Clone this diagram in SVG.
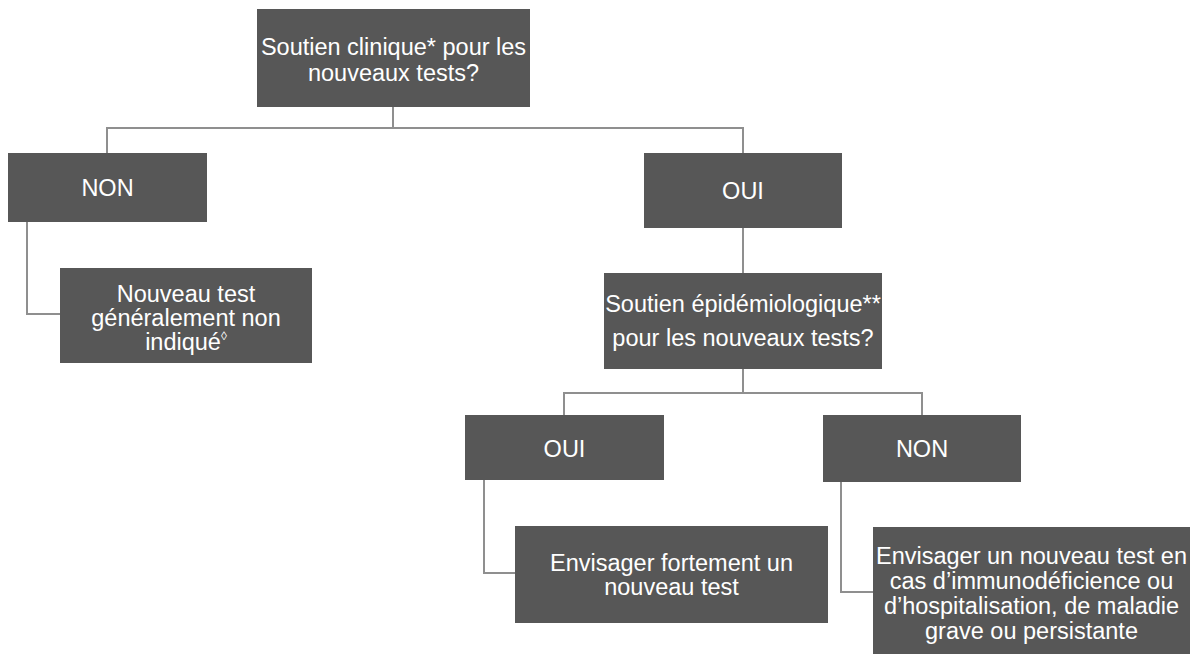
<svg xmlns="http://www.w3.org/2000/svg" width="1192" height="656" viewBox="0 0 1192 656">
<style>
.box{fill:#575757;}
.t{font-family:"Liberation Sans",Arial,sans-serif;font-size:23.5px;fill:#ffffff;text-anchor:middle;}
.c{fill:none;stroke:#8f8f8f;stroke-width:2;}
</style>
<rect width="1192" height="656" fill="#ffffff"/>
<g id="connectors">
<path class="c" d="M393,107 V128"/>
<path class="c" d="M107,153 V128 H743 V153"/>
<path class="c" d="M27,222 V314 H60"/>
<path class="c" d="M743,228 V273"/>
<path class="c" d="M743,369 V393"/>
<path class="c" d="M564,415 V393 H922 V415"/>
<path class="c" d="M484,480 V573 H515"/>
<path class="c" d="M841,482 V592 H873"/>
</g>
<g id="n-clinique">
<rect class="box" x="257" y="9" width="273" height="98"/>
<text class="t" x="393.5" y="55">Soutien clinique* pour les</text>
<text class="t" x="393.5" y="81">nouveaux tests?</text>
</g>
<g id="n-non1">
<rect class="box" x="8" y="153" width="199" height="69"/>
<text class="t" x="107.5" y="196">NON</text>
</g>
<g id="n-oui1">
<rect class="box" x="644" y="153" width="198" height="75"/>
<text class="t" x="743" y="199">OUI</text>
</g>
<g id="n-nonindique">
<rect class="box" x="60" y="268" width="252" height="95"/>
<text class="t" x="186" y="302">Nouveau test</text>
<text class="t" x="186" y="326">généralement non</text>
<text class="t" x="186" y="350">indiqué<tspan font-size="12" dy="-10">◊</tspan></text>
</g>
<g id="n-epidemio">
<rect class="box" x="604" y="273" width="278" height="96"/>
<text class="t" x="743" y="312">Soutien épidémiologique**</text>
<text class="t" x="743" y="346">pour les nouveaux tests?</text>
</g>
<g id="n-oui2">
<rect class="box" x="465" y="415" width="199" height="65"/>
<text class="t" x="564.5" y="457">OUI</text>
</g>
<g id="n-non2">
<rect class="box" x="823" y="415" width="198" height="67"/>
<text class="t" x="922" y="457">NON</text>
</g>
<g id="n-fortement">
<rect class="box" x="515" y="526" width="313" height="97"/>
<text class="t" x="671.5" y="571">Envisager fortement un</text>
<text class="t" x="671.5" y="595">nouveau test</text>
</g>
<g id="n-immuno">
<rect class="box" x="873" y="527" width="317" height="127"/>
<text class="t" x="1031.5" y="564">Envisager un nouveau test en</text>
<text class="t" x="1031.5" y="589">cas d’immunodéficience ou</text>
<text class="t" x="1031.5" y="614">d’hospitalisation, de maladie</text>
<text class="t" x="1031.5" y="639">grave ou persistante</text>
</g>
</svg>
